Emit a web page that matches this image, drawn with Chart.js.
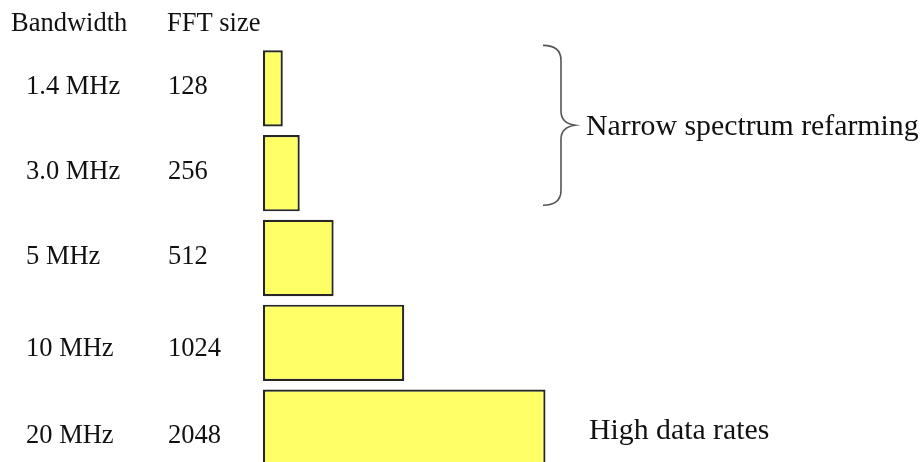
<!DOCTYPE html>
<html>
<head>
<meta charset="utf-8">
<title>LTE bandwidth vs FFT size</title>
<script src="https://cdn.jsdelivr.net/npm/chart.js@4.4.1/dist/chart.umd.min.js"></script>
<style>
  html, body { margin: 0; padding: 0; background: #fff; overflow: hidden; }
  #wrap { width: 923px; height: 462px; overflow: hidden; }
  canvas { display: block; }
</style>
</head>
<body>
<div id="wrap"><canvas id="chart" width="923" height="470"></canvas></div>
<script>
// ---- data ----
const bandwidths = ["1.4 MHz", "3.0 MHz", "5 MHz", "10 MHz", "20 MHz"];
const fftSizes = ["128", "256", "512", "1024", "2048"];
const barLengths = [1.4, 2.6, 5, 10, 20];   // occupied width
const headers = ["Bandwidth", "FFT size"];
const notes = ["Narrow spectrum refarming", "High data rates"];

// small per-row nudge of the text labels (px), the source text isn't centred exactly
const labelNudge = [-3, -3, -3, 5, 7];

const SERIF = "'Liberation Serif', 'Times New Roman', serif";

const labelsPlugin = {
  id: "labels",
  afterDraw(chart) {
    const ctx = chart.ctx;
    const y = chart.scales.y;
    ctx.save();
    ctx.fillStyle = "#111";
    ctx.textBaseline = "alphabetic";
    ctx.textAlign = "left";

    // column headers
    ctx.font = "26.5px " + SERIF;
    ctx.fillText(headers[0], 11, 31);
    ctx.fillText(headers[1], 167, 31);

    // row labels
    bandwidths.forEach((bw, i) => {
      const cy = y.getPixelForValue(i) + labelNudge[i];
      ctx.fillText(bw, 26, cy + 8.5);
      ctx.fillText(fftSizes[i], 168, cy + 8.5);
    });

    // brace round the first two rows
    const top = y.getPixelForValue(0) - 43;
    const bot = y.getPixelForValue(1) + 32;
    const mid = (top + bot) / 2;
    ctx.strokeStyle = "#555";
    ctx.lineWidth = 1.6;
    ctx.beginPath();
    ctx.moveTo(543, top);
    ctx.quadraticCurveTo(561, top, 561, top + 15);
    ctx.lineTo(561, mid - 14);
    ctx.quadraticCurveTo(561, mid - 2, 575, mid);
    ctx.quadraticCurveTo(561, mid + 2, 561, mid + 14);
    ctx.lineTo(561, bot - 15);
    ctx.quadraticCurveTo(561, bot, 543, bot);
    ctx.stroke();

    // annotations
    ctx.font = "29.8px " + SERIF;
    ctx.fillText(notes[0], 586, mid + 10);
    ctx.fillText(notes[1], 589, y.getPixelForValue(4) + 1.5 + 10);
    ctx.restore();
  }
};

new Chart(document.getElementById("chart"), {
  type: "bar",
  data: {
    labels: bandwidths,
    datasets: [{
      data: barLengths,
      backgroundColor: "#ffff66",
      borderColor: "#262626",
      borderWidth: 2.2,
      borderSkipped: false,
      barPercentage: 0.9,
      categoryPercentage: 1
    }]
  },
  options: {
    indexAxis: "y",
    responsive: false,
    animation: false,
    layout: { padding: { top: 46, left: 263, right: 30, bottom: 0 } },
    plugins: {
      legend: { display: false },
      tooltip: { enabled: false }
    },
    scales: {
      x: { display: false, min: 0, max: 44.6 },
      y: { display: false }
    }
  },
  plugins: [labelsPlugin]
});
</script>
</body>
</html>
